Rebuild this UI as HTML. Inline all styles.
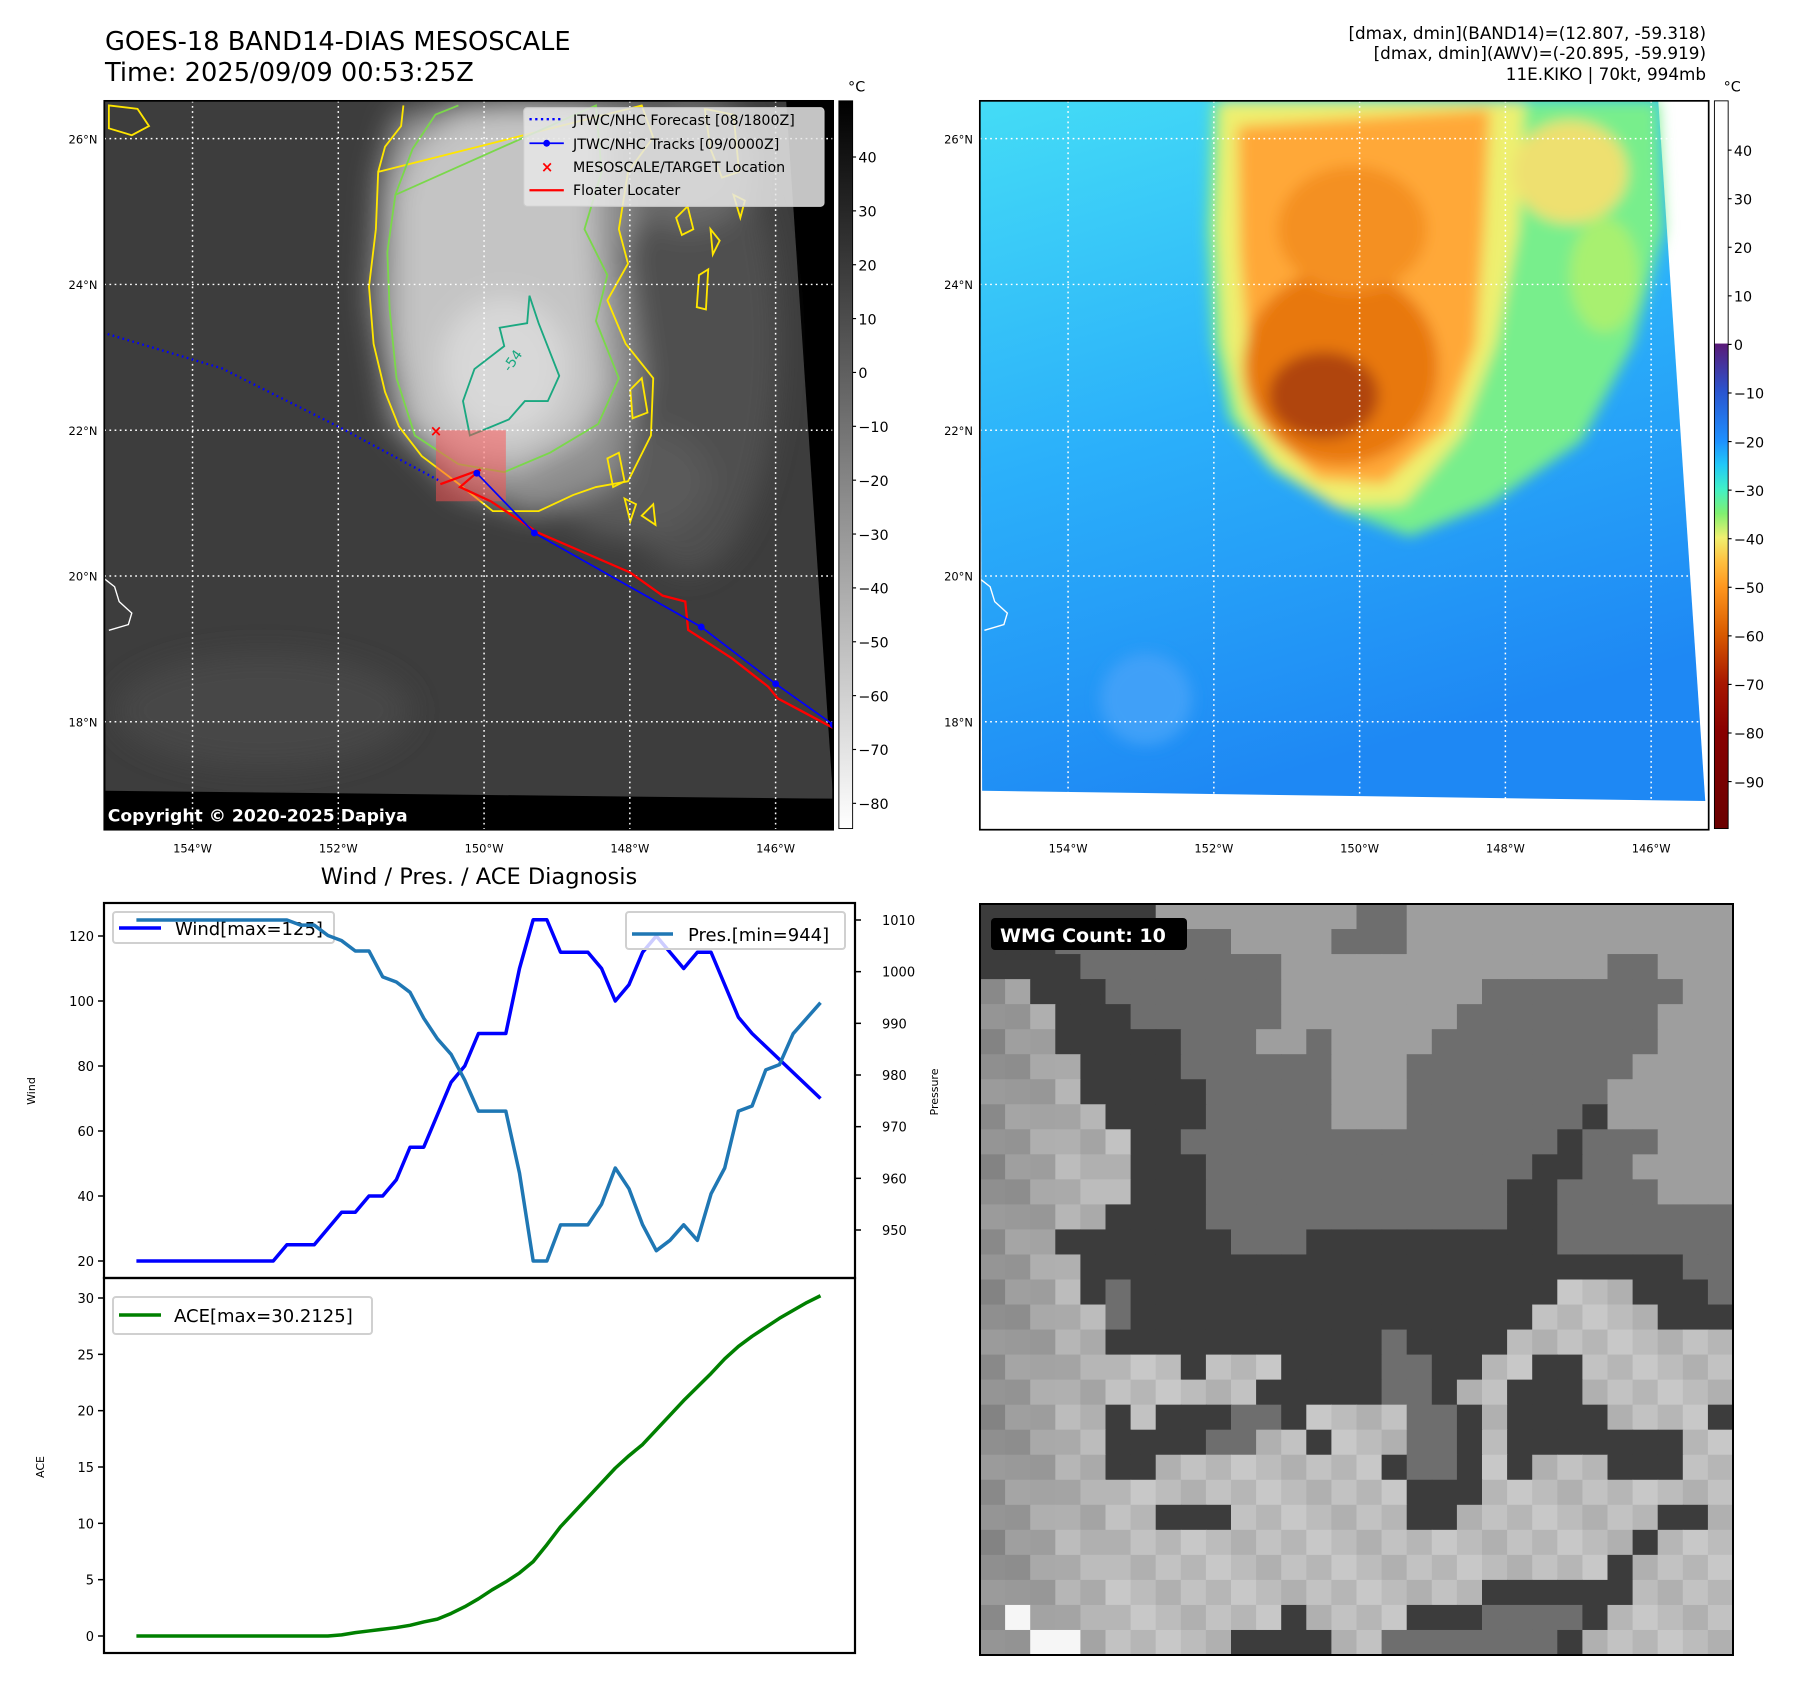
<!DOCTYPE html>
<html><head><meta charset="utf-8">
<style>
html,body{margin:0;padding:0;background:#fff;}
svg{display:block;font-family:"DejaVu Sans","Liberation Sans",sans-serif;}
</style></head>
<body>
<svg id="root" width="1797" height="1690" viewBox="0 0 1797 1690" xmlns="http://www.w3.org/2000/svg">
<defs>
  <filter id="blur6" x="-30%" y="-30%" width="160%" height="160%"><feGaussianBlur stdDeviation="6"/></filter>
  <filter id="blur3" x="-30%" y="-30%" width="160%" height="160%"><feGaussianBlur stdDeviation="3"/></filter>
  <filter id="blur12" x="-30%" y="-30%" width="160%" height="160%"><feGaussianBlur stdDeviation="12"/></filter>
  <clipPath id="clipL"><rect x="91" y="88" width="636" height="636"/></clipPath>
  <clipPath id="clipR"><rect x="855" y="88" width="636" height="636"/></clipPath>
  <linearGradient id="cbGray" x1="0" y1="1" x2="0" y2="0">
    <stop offset="0" stop-color="#ffffff"/><stop offset="1" stop-color="#000000"/>
  </linearGradient>
  <linearGradient id="cbColor" x1="0" y1="0" x2="0" y2="1">
    <stop offset="0" stop-color="#ffffff"/>
    <stop offset="0.333" stop-color="#ffffff"/>
    <stop offset="0.334" stop-color="#5a1a78"/>
    <stop offset="0.40" stop-color="#2a55d0"/>
    <stop offset="0.467" stop-color="#1e90ff"/>
    <stop offset="0.50" stop-color="#22c8f8"/>
    <stop offset="0.533" stop-color="#40f0c8"/>
    <stop offset="0.567" stop-color="#80f070"/>
    <stop offset="0.60" stop-color="#f0f070"/>
    <stop offset="0.633" stop-color="#ffc040"/>
    <stop offset="0.667" stop-color="#ff9820"/>
    <stop offset="0.733" stop-color="#d85a00"/>
    <stop offset="0.80" stop-color="#a81800"/>
    <stop offset="0.867" stop-color="#880000"/>
    <stop offset="1" stop-color="#6a0000"/>
  </linearGradient>
  <linearGradient id="seaR" x1="0" y1="0" x2="0.3" y2="1">
    <stop offset="0" stop-color="#44dcf6"/>
    <stop offset="0.5" stop-color="#2bb0fa"/>
    <stop offset="1" stop-color="#1e88f4"/>
  </linearGradient>
</defs>

<!-- Titles -->
<text x="105" y="50" font-size="25.7" fill="#000">GOES-18 BAND14-DIAS MESOSCALE</text>
<text x="105" y="81" font-size="25.7" fill="#000">Time: 2025/09/09 00:53:25Z</text>
<g font-size="16.8" fill="#000" text-anchor="end">
  <text x="1706" y="39">[dmax, dmin](BAND14)=(12.807, -59.318)</text>
  <text x="1706" y="59">[dmax, dmin](AWV)=(-20.895, -59.919)</text>
  <text x="1706" y="80">11E.KIKO | 70kt, 994mb</text>
</g>

<g transform="scale(1.146)">
  <!-- LEFT MAP -->
  <g clip-path="url(#clipL)">
    <rect x="91" y="88" width="636" height="636" fill="#000"/>
    <polygon points="91,88 686,88 727,697 92,690" fill="#3d3d3d"/>
    <g filter="url(#blur12)">
      <ellipse cx="230" cy="620" rx="130" ry="50" fill="#474747"/>
      <ellipse cx="600" cy="300" rx="80" ry="200" fill="#505050"/>
      <ellipse cx="550" cy="420" rx="70" ry="50" fill="#5a5a5a"/>
      <polygon points="330,150 345,100 400,88 560,88 570,150 545,220 560,330 540,420 470,450 400,430 340,370 322,260" fill="#8e8e8e"/>
      <polygon points="345,170 360,130 400,100 450,92 520,100 520,200 525,280 530,340 510,380 450,410 400,400 360,370 345,300" fill="#c4c4c4"/>
      <ellipse cx="440" cy="320" rx="55" ry="60" fill="#d8d8d8"/>
      <ellipse cx="600" cy="140" rx="60" ry="60" fill="#6a6a6a"/>
    </g>
    <g fill="none" stroke-width="1.6">
      <path stroke="#ffe600" d="M330,150 L336,128 L350,110 L352,92 M560,92 L570,120 L548,150 L540,200 L548,230 L530,262 L546,300 L570,330 L568,380 L548,420 L520,425 L500,432 L470,446 L430,446 L400,422 L368,398 L348,372 L336,342 L326,300 L322,250 L328,200 L330,150 Z"/>
      <path stroke="#ffe600" d="M95,92 L120,95 L130,110 L115,118 L95,112 Z M550,340 L560,330 L565,360 L552,365 Z M590,190 L600,180 L605,200 L595,205 Z M610,240 L618,235 L616,270 L608,268 Z M620,200 L628,210 L622,222 Z M640,170 L650,175 L646,190 Z M530,400 L540,395 L545,420 L535,425 Z M545,435 L555,440 L550,455 Z M615,95 L640,100 L645,150 L630,155 L620,130 Z M560,450 L570,440 L572,458 Z"/>
      <path stroke="#7ad84a" d="M345,170 L360,130 L380,100 L400,92 M520,92 L525,150 L510,200 L530,240 L520,280 L540,330 L522,370 L480,395 L440,412 L400,405 L362,380 L346,330 L340,270 L338,220 L345,170 Z"/>
      <path stroke="#1aa880" d="M410,380 L404,350 L414,322 L440,302 L436,286 L460,282 L462,258 L470,282 L488,328 L478,350 L458,350 L444,366 L420,376 Z"/>
    </g>
    <text x="445" y="325" font-size="12" fill="#1aa880" transform="rotate(-55 445 325)">-54</text>
    <path d="M91,505 L100,512 L104,525 L115,535 L112,545 L95,550" fill="none" stroke="#fff" stroke-width="1.2"/>
    <rect x="91" y="697" width="636" height="27" fill="#000"/>
    <text x="94" y="717" font-size="15" font-weight="bold" fill="#fff">Copyright © 2020-2025 Dapiya</text>
    <g id="gridL"></g>
    <g id="tracksL"></g>
  </g>
  <rect x="91" y="88" width="636" height="636" fill="none" stroke="#000" stroke-width="1.5"/>

  <g>
    <rect x="457" y="94" width="262" height="86" rx="3" fill="#e6e6e6" fill-opacity="0.85" stroke="#ccc"/>
    <line x1="462" y1="104" x2="492" y2="104" stroke="#0000ff" stroke-width="2" stroke-dasharray="2,3"/>
    <text x="500" y="109" font-size="12.4">JTWC/NHC Forecast [08/1800Z]</text>
    <line x1="462" y1="125" x2="492" y2="125" stroke="#0000ff" stroke-width="1.5"/>
    <circle cx="477" cy="125" r="3" fill="#0000ff"/>
    <text x="500" y="130" font-size="12.4">JTWC/NHC Tracks [09/0000Z]</text>
    <text x="472" y="150" font-size="13" fill="#ff0000" font-weight="bold">×</text>
    <text x="500" y="150" font-size="12.4">MESOSCALE/TARGET Location</text>
    <line x1="462" y1="166" x2="492" y2="166" stroke="#ff0000" stroke-width="2"/>
    <text x="500" y="170" font-size="12.4">Floater Locater</text>
  </g>

  <g>
    <rect x="732" y="88" width="12" height="635" fill="url(#cbGray)" stroke="#000" stroke-width="0.8"/>
    <text x="740" y="80" font-size="12.5">°C</text>
    <g id="cbLticks" font-size="12.5"></g>
  </g>

  <!-- RIGHT MAP -->
  <g clip-path="url(#clipR)">
    <rect x="855" y="88" width="636" height="636" fill="#fff"/>
    <polygon points="855,88 1447,88 1488,699 857,690" fill="url(#seaR)"/>
    <g filter="url(#blur6)">
      <ellipse cx="1000" cy="610" rx="40" ry="40" fill="#3fa0f8"/>
      <polygon points="1058,88 1447,88 1452,200 1425,300 1380,385 1300,440 1230,468 1170,445 1110,410 1072,365 1058,300 1053,200" fill="#78ee8c"/>
      <polygon points="1065,88 1330,88 1325,200 1305,300 1275,380 1225,440 1165,442 1112,405 1082,362 1068,300 1062,200" fill="#eef070"/>
      <polygon points="1080,110 1300,95 1295,200 1288,300 1262,372 1208,422 1150,418 1110,382 1090,322 1082,220" fill="#ffa838"/>
      <ellipse cx="1370" cy="150" rx="50" ry="45" fill="#eee070"/>
      <ellipse cx="1400" cy="240" rx="30" ry="50" fill="#a8f070"/>
      <ellipse cx="1170" cy="320" rx="85" ry="85" fill="#e8780c"/>
      <ellipse cx="1155" cy="345" rx="48" ry="38" fill="#b04408"/>
      <ellipse cx="1180" cy="200" rx="65" ry="55" fill="#f49020"/>
    </g>
    <path d="M855,505 L864,512 L868,525 L879,535 L876,545 L859,550" fill="none" stroke="#fff" stroke-width="1.2"/>
    <g id="gridR"></g>
  </g>
  <rect x="855" y="88" width="636" height="636" fill="none" stroke="#000" stroke-width="1.5"/>
  <g>
    <rect x="1496" y="88" width="12" height="635" fill="url(#cbColor)" stroke="#000" stroke-width="0.8"/>
    <text x="1504" y="80" font-size="12.5">°C</text>
    <g id="cbRticks" font-size="12.5"></g>
  </g>
  <g id="mapLabels" font-size="10"></g>
</g>

<g>
  <g id="wmgCells"></g>
  <rect x="980" y="904" width="753" height="751" fill="none" stroke="#000" stroke-width="2"/>
  <rect x="991" y="918" width="196" height="32" rx="4" fill="#000"/>
  <text x="1000" y="942" font-size="19" font-weight="bold" fill="#fff">WMG Count: 10</text>
</g>

<text x="479" y="884" font-size="22.5" text-anchor="middle">Wind / Pres. / ACE Diagnosis</text>
<g id="charts"></g>

<script>
const steps = Array.from({length:51},(_,i)=>i);
const windValues = [20,20,20,20,20,20,20,20,20,20,20,25,25,25,30,35,35,40,40,45,55,55,65,75,80,90,90,90,110,125,125,115,115,115,110,100,105,115,120,115,110,115,115,105,95,90,86,82,78,74,70];
const pressureValues = [1010,1010,1010,1010,1010,1010,1010,1010,1010,1010,1010,1010,1009,1009,1007,1006,1004,1004,999,998,996,991,987,984,979,973,973,973,961,944,944,951,951,951,955,962,958,951,946,948,951,948,957,962,973,974,981,982,988,991,994];
const aceValues = [0,0,0,0,0,0,0,0,0,0,0,0,0,0,0,0.1,0.3,0.45,0.6,0.75,0.95,1.25,1.5,2.0,2.6,3.3,4.1,4.8,5.6,6.6,8.1,9.7,11.0,12.3,13.6,14.9,16.0,17.0,18.3,19.6,20.9,22.1,23.3,24.6,25.7,26.6,27.4,28.2,28.9,29.6,30.2];
const windTicks = [20,40,60,80,100,120];
const pressureTicks = [950,960,970,980,990,1000,1010];
const aceTicks = [0,5,10,15,20,25,30];

const NS="http://www.w3.org/2000/svg";
function mk(tag, attrs, parent){const e=document.createElementNS(NS,tag);for(const k in attrs)e.setAttribute(k,attrs[k]);if(parent)parent.appendChild(e);return e;}

const charts=document.getElementById('charts');
const X0=104,X1=855,Y0=903,YM=1278,Y1=1653;
const xs = i => 136.4 + (i-steps[0])*(820.5-136.4)/(steps[steps.length-1]-steps[0]);
const yW = v => 1261 - (v-20)*(1261-936)/100;
const yP = v => 1230 - (v-950)*(1230-920)/60;
const yA = v => 1636 - v*(1636-1298)/30;

function poly(vals, yf, color, name, w){
  const p = mk('polyline',{points: vals.map((v,i)=>xs(steps[i])+','+yf(v)).join(' '), fill:'none', stroke:color, 'stroke-width':w, 'stroke-linejoin':'round'}, charts);
  
  
  return p;
}
windTicks.forEach(t=>{const y=yW(t);mk('line',{x1:X0-6,y1:y,x2:X0,y2:y,stroke:'#000','stroke-width':1.5},charts);const tx=mk('text',{x:X0-10,y:y+5,'font-size':13,'text-anchor':'end'},charts);tx.textContent=t;

});
pressureTicks.forEach(t=>{const y=yP(t);mk('line',{x1:X1,y1:y,x2:X1+6,y2:y,stroke:'#000','stroke-width':1.5},charts);const tx=mk('text',{x:X1+27,y:y+5,'font-size':13,'text-anchor':'start'},charts);tx.textContent=t;

});
aceTicks.forEach(t=>{const y=yA(t);mk('line',{x1:X0-6,y1:y,x2:X0,y2:y,stroke:'#000','stroke-width':1.5},charts);const tx=mk('text',{x:X0-10,y:y+5,'font-size':13,'text-anchor':'end'},charts);tx.textContent=t;

});
let at=mk('text',{x:35,y:1091,'font-size':11,'text-anchor':'middle',transform:'rotate(-90 35 1091)'},charts);at.textContent='Wind';


at=mk('text',{x:938,y:1092,'font-size':11,'text-anchor':'middle',transform:'rotate(-90 938 1092)'},charts);at.textContent='Pressure';


at=mk('text',{x:44,y:1467,'font-size':11,'text-anchor':'middle',transform:'rotate(-90 44 1467)'},charts);at.textContent='ACE';



poly(windValues,yW,'#0000ff','wind-line',3.5);
let g=mk('g',{},charts);


mk('rect',{x:113,y:912,width:221,height:31,rx:3,fill:'#fff','fill-opacity':0.8,stroke:'#d0d0d0','stroke-width':2},g);
mk('line',{x1:119,y1:928,x2:161,y2:928,stroke:'#0000ff','stroke-width':3.5},g);
let t=mk('text',{x:175,y:935,'font-size':18},g);t.textContent='Wind[max=125]';
poly(pressureValues,yP,'#1f77b4','pressure-line',3.5);
g=mk('g',{},charts);


mk('rect',{x:626,y:912,width:219,height:37,rx:3,fill:'#fff','fill-opacity':0.8,stroke:'#d0d0d0','stroke-width':2},g);
mk('line',{x1:632,y1:934,x2:673,y2:934,stroke:'#1f77b4','stroke-width':3.5},g);
t=mk('text',{x:688,y:941,'font-size':18},g);t.textContent='Pres.[min=944]';
poly(aceValues,yA,'#008000','ace-line',3.5);
g=mk('g',{},charts);


mk('rect',{x:113,y:1297,width:259,height:37,rx:3,fill:'#fff','fill-opacity':0.8,stroke:'#d0d0d0','stroke-width':2},g);
mk('line',{x1:119,y1:1315,x2:161,y2:1315,stroke:'#008000','stroke-width':3.5},g);
t=mk('text',{x:174,y:1322,'font-size':18},g);t.textContent='ACE[max=30.2125]';
let fr=mk('rect',{x:X0,y:Y0,width:X1-X0,height:YM-Y0,fill:'none',stroke:'#000','stroke-width':2.2},charts);


fr=mk('rect',{x:X0,y:YM,width:X1-X0,height:Y1-YM,fill:'none',stroke:'#000','stroke-width':2.2},charts);



const lonTicks=[154,152,150,148,146];
const latTicks=[26,24,22,20,18];
const LX = lon => 168 + (154-lon)*63.6;
const LY = lat => 121 + (26-lat)*63.6;
function grid(id,dx){
  const gg=document.getElementById(id);
  lonTicks.forEach(l=>mk('line',{x1:LX(l)+dx,y1:88,x2:LX(l)+dx,y2:724,stroke:'#fff','stroke-width':1.3,'stroke-dasharray':'1.5,3'},gg));
  latTicks.forEach(l=>mk('line',{x1:91+dx,y1:LY(l),x2:727+dx,y2:LY(l),stroke:'#fff','stroke-width':1.3,'stroke-dasharray':'1.5,3'},gg));
}
grid('gridL',0);grid('gridR',764);
const ml=document.getElementById('mapLabels');
[0,764].forEach(dx=>{
  lonTicks.forEach(l=>{const e=mk('text',{x:LX(l)+dx,y:744,'text-anchor':'middle'},ml);e.textContent=l+'°W';
  
  });
  latTicks.forEach(l=>{const e=mk('text',{x:85+dx,y:LY(l)+4,'text-anchor':'end'},ml);e.textContent=l+'°N';
  
  });
});
const cbLvals=[40,30,20,10,0,-10,-20,-30,-40,-50,-60,-70,-80];
const cbL=document.getElementById('cbLticks');
cbLvals.forEach(v=>{const y=137+(40-v)*(701-137)/120;mk('line',{x1:744,y1:y,x2:747,y2:y,stroke:'#000'},cbL);const e=mk('text',{x:749,y:y+5},cbL);e.textContent=(v<0?'\u2212'+(-v):v);

});
const cbRvals=[40,30,20,10,0,-10,-20,-30,-40,-50,-60,-70,-80,-90];
const cbR=document.getElementById('cbRticks');
cbRvals.forEach(v=>{const y=131+(40-v)*(682-131)/130;mk('line',{x1:1508,y1:y,x2:1511,y2:y,stroke:'#000'},cbR);const e=mk('text',{x:1513,y:y+5},cbR);e.textContent=(v<0?'\u2212'+(-v):v);

});

const forecastLon=[155.3,153.6,152.0,150.6];
const forecastLat=[23.36,22.85,22.05,21.3];
const trackLon=[150.1,149.31,147.02,146.0,145.21];
const trackLat=[21.41,20.59,19.30,18.52,17.96];
const floaterLon=[150.6,150.05,150.33,149.9,149.27,148.0,147.55,147.24,147.2,146.6,146.1,145.97,145.2];
const floaterLat=[21.26,21.46,21.22,21.02,20.6,20.05,19.73,19.65,19.26,18.87,18.48,18.32,17.91];
const tr=document.getElementById('tracksL');
mk('rect',{x:LX(150.66),y:LY(22.0),width:61,height:62,fill:'#ff5050','fill-opacity':0.5},tr);
mk('polyline',{points:forecastLon.map((l,i)=>LX(l)+','+LY(forecastLat[i])).join(' '),fill:'none',stroke:'#0000ff','stroke-width':2,'stroke-dasharray':'1.5,3'},tr);
mk('polyline',{points:floaterLon.map((l,i)=>LX(l)+','+LY(floaterLat[i])).join(' '),fill:'none',stroke:'#ff0000','stroke-width':2},tr);
mk('polyline',{points:trackLon.map((l,i)=>LX(l)+','+LY(trackLat[i])).join(' '),fill:'none',stroke:'#0000ff','stroke-width':1.5},tr);
trackLon.forEach((l,i)=>{const c=mk('circle',{cx:LX(l),cy:LY(trackLat[i]),r:3,fill:'#0000ff'},tr);

});
const xm=mk('text',{x:LX(150.66),y:LY(22.0)+5,'font-size':13,'font-weight':'bold',fill:'#ff0000','text-anchor':'middle'},tr);xm.textContent='×';



const wmgRows=[
"DDDDDDDLLLLLLLLMMLLLLLLLLLLLLL","DDDMMMMMMMLLLLMMMLLLLLLLLLLLLL","DDDDMMMMMMMMLLLLLLLLLLLLLMMLLL",
"BBDDDMMMMMMMLLLLLLLLMMMMMMMMLL","BBBDDDMMMMMMLLLLLLLMMMMMMMMLLL","BBBDDDDDMMMLLMLLLLMMMMMMMMMLLL",
"BBBBDDDDMMMMMMLLLMMMMMMMMMLLLL","BBBBDDDDDMMMMMLLLMMMMMMMMLLLLL","BBBBBDDDDMMMMMLLLMMMMMMMDLLLLL",
"BBBBBBDDMMMMMMMMMMMMMMMDMMMLLL","BBBBBBDDDMMMMMMMMMMMMMDDMMLLLL","BBBBBBDDDMMMMMMMMMMMMDDMMMMLLL",
"BBBBBDDDDMMMMMMMMMMMMDDMMMMMMM","BBBDDDDDDDMMMDDDDDDDDDDMMMMMMM","BBBBDDDDDDDDDDDDDDDDDDDDDDDDMM",
"BBBBDMDDDDDDDDDDDDDDDDDBBBDDDM","BBBBBMDDDDDDDDDDDDDDDDBBBBBDDD","BBBBBDDDDDDDDDDDMDDDDBBBBBBBBB",
"BBBBBBBBDBBBDDDDMMDDBBDDBBBBBB","BBBBBBBBBBBDDDDDMMDBBDDDBBBBBB","BBBBBDBDDDMMDBBBBMMDBDDDDBBBBD",
"BBBBBDDDDMMBBDBBBMMDBDDDDDDDBB","BBBBBDDBBBBBBBBBDMMDBDBBBDDDBB","BBBBBBBBBBBBBBBBBDDDBBBBBBBBBB",
"BBBBBBBDDDBBBBBBBDDBBBBBBBBDDB","BBBBBBBBBBBBBBBBBBBBBBBBBBDBBB","BBBBBBBBBBBBBBBBBBBBBBBBBDBBBB",
"BBBBBBBBBBBBBBBBBBBBDDDDDDBBBB","BWBBBBBBBBBBDBBBBDDDMMMMDBBBBB","BBWWBBBBBBDDDDBBMMMMMMMDBBBBBB"];
const wc=document.getElementById('wmgCells');
const cw=753/30, ch=751/30;
for(let r=0;r<30;r++)for(let c=0;c<30;c++){
  const k=wmgRows[r][c];let col;
  if(k==='D')col='#3c3c3c';else if(k==='M')col='#6e6e6e';else if(k==='L')col='#9e9e9e';else if(k==='W')col='#f6f6f6';
  else{let v=176+((r*7+c*13)%5)*6;if(c<3)v-=45-c*10;else if(c<5)v-=12;v=Math.max(120,Math.min(210,v));const h=v.toString(16);col='#'+h+h+h;}
  mk('rect',{x:980+c*cw,y:904+r*ch,width:cw+0.6,height:ch+0.6,fill:col},wc);
}
</script>
</body></html>
